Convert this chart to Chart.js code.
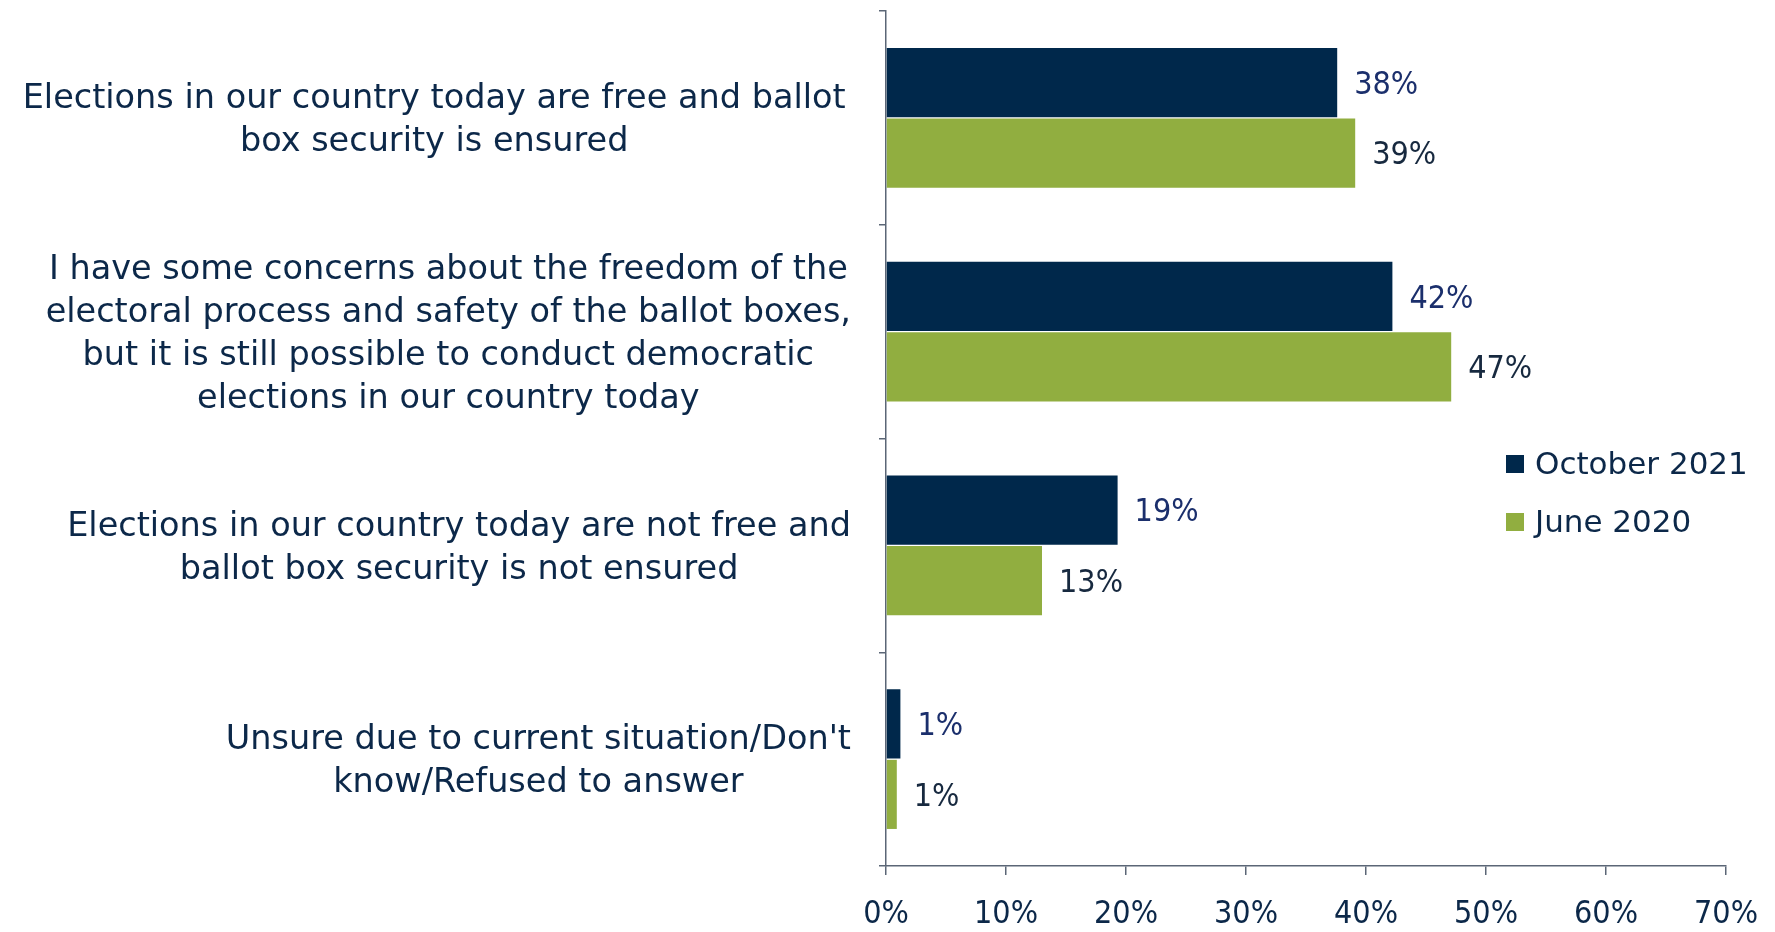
<!DOCTYPE html>
<html>
<head>
<meta charset="utf-8">
<script src="https://cdn.jsdelivr.net/npm/chart.js@4"></script>
<style>
  html, body { margin: 0; padding: 0; background: #fff; }
  #wrap { position: relative; width: 1775px; height: 932px; }
  #legend {
    position: absolute; left: 1506px; top: 434px;
    font-family: "DejaVu Sans", sans-serif;
    font-size: 31px; color: #0c2849; line-height: 58px;
  }
  #legend span.box { display: inline-block; width: 18px; height: 18px; margin-right: 11px; vertical-align: 1px; }
</style>
</head>
<body>
<div id="wrap">
  <canvas id="chart" width="1775" height="932"></canvas>
  <div id="legend"></div>
</div>
<script>
// ── data ──────────────────────────────────────────────
const categories = [
  ['Elections in our country today are free and ballot ', 'box security is ensured'],
  ['I have some concerns about the freedom of the', 'electoral process and safety of the ballot boxes,',
   'but it is still possible to conduct democratic', 'elections in our country today'],
  ['Elections in our country today are not free and', 'ballot box security is not ensured'],
  ["Unsure due to current situation/Don't", 'know/Refused to answer'],
];
const seriesNames = ['October 2021', 'June 2020'];
const oct2021 = [37.6, 42.2, 19.3, 1.2];
const jun2020 = [39.1, 47.1, 13.0, 0.9];
const xTicks  = [0, 10, 20, 30, 40, 50, 60, 70];

const COLORS = {
  navy:   '#00284b',
  green:  '#91ae40',
  text:   '#0c2849',
  lblOct: '#1b2f6c',
  lblJun: '#17293f',
  axis:   '#5b6676',
};
const FONT_LBL = '"DejaVu Sans", sans-serif';
const FONT_NUM = '"DejaVu Sans Condensed", "DejaVu Sans", sans-serif';

// legend (html, real text)
document.getElementById('legend').innerHTML = seriesNames.map((n, i) =>
  `<div><span class="box" style="background:${i ? COLORS.green : COLORS.navy}"></span>${n}</div>`).join('');

// category labels: block right-aligned, lines centred inside the block
const catLabels = {
  id: 'catLabels',
  afterDraw(chart) {
    const { ctx, chartArea, scales: { y } } = chart;
    ctx.save();
    ctx.font = `33.5px ${FONT_LBL}`;
    ctx.fillStyle = COLORS.text;
    ctx.textAlign = 'center';
    ctx.textBaseline = 'middle';
    const lh = 43;
    categories.forEach((lines, i) => {
      const cy = y.getPixelForTick(i) + 3;
      const w = Math.max(...lines.map(l => ctx.measureText(l).width));
      const cx = chartArea.left - 35 - w / 2;
      const y0 = cy - (lines.length - 1) * lh / 2;
      lines.forEach((l, k) => ctx.fillText(l.trimEnd(), cx, y0 + k * lh));
    });
    ctx.restore();
  }
};

// value labels at bar ends
const valueLabels = {
  id: 'valueLabels',
  afterDatasetsDraw(chart) {
    const { ctx } = chart;
    ctx.save();
    ctx.font = `32px ${FONT_NUM}`;
    ctx.textAlign = 'left';
    ctx.textBaseline = 'middle';
    chart.data.datasets.forEach((ds, di) => {
      ctx.fillStyle = di ? COLORS.lblJun : COLORS.lblOct;
      chart.getDatasetMeta(di).data.forEach((bar, i) => {
        ctx.fillText(`${Math.round(ds.data[i])}%`, bar.x + 17, bar.y + 3);
      });
    });
    ctx.restore();
  }
};

new Chart(document.getElementById('chart').getContext('2d'), {
  type: 'bar',
  data: {
    labels: categories.map(c => c.join(' ')),
    datasets: [
      { label: seriesNames[0], data: oct2021, backgroundColor: COLORS.navy,  barPercentage: 0.98, categoryPercentage: 0.66 },
      { label: seriesNames[1], data: jun2020, backgroundColor: COLORS.green, barPercentage: 0.98, categoryPercentage: 0.66 },
    ]
  },
  options: {
    indexAxis: 'y',
    responsive: false,
    animation: false,
    layout: { padding: { top: 11, right: 49, left: 0, bottom: 0 } },
    plugins: {
      legend:  { display: false },
      tooltip: { enabled: false },
    },
    scales: {
      x: {
        min: xTicks[0], max: xTicks[xTicks.length - 1],
        afterBuildTicks: s => { s.ticks = xTicks.map(v => ({ value: v })); },
        ticks: { callback: v => `${v}%`, color: COLORS.text, font: { family: FONT_NUM, size: 32 }, padding: 20, maxRotation: 0 },
        grid:  { drawOnChartArea: false, tickLength: 9, color: COLORS.axis, lineWidth: 1.5 },
        border: { color: COLORS.axis, width: 1.5 },
        afterFit: s => { s.height = 66; s.paddingLeft = 0; s.paddingRight = 0; },
      },
      y: {
        ticks: { display: false },
        grid:  { drawOnChartArea: false, tickLength: 7, color: COLORS.axis, lineWidth: 1.5, offset: true },
        border: { color: COLORS.axis, width: 1.5 },
        afterFit: s => { s.width = 886; },
      },
    },
  },
  plugins: [catLabels, valueLabels],
});
</script>
</body>
</html>
